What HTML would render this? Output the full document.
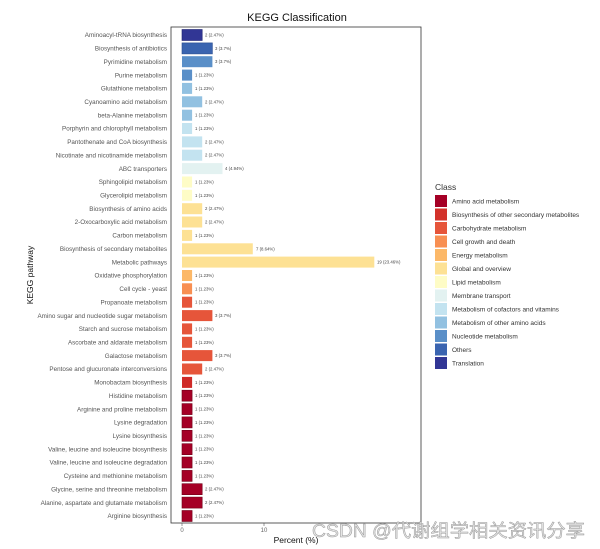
<!DOCTYPE html>
<html><head><meta charset="utf-8"><style>
html,body{margin:0;padding:0;background:#fff;}
svg{display:block;font-family:"Liberation Sans","Noto Sans CJK SC",sans-serif;}
.l{font-size:6.3px;fill:#555;text-anchor:end;}
.v{font-size:4.3px;fill:#444;}
.g text{font-size:6.5px;fill:#333;}
</style></head><body>
<svg width="600" height="549" viewBox="0 0 600 549" xmlns="http://www.w3.org/2000/svg">
<text x="297" y="21" font-size="11" text-anchor="middle" fill="#111">KEGG Classification</text>
<rect x="171" y="27" width="250" height="496" fill="none" stroke="#333" stroke-width="0.8"/>

<g stroke-width="0.6">
<rect x="182" y="29.5" width="20.2" height="11" fill="#313695" stroke="#1c2170"/>
<rect x="182" y="42.9" width="30.4" height="11" fill="#3a64b0" stroke="#2a4d90"/>
<rect x="182" y="56.2" width="30.4" height="11" fill="#5a8fc8"/>
<rect x="182" y="69.6" width="10.1" height="11" fill="#5a8fc8"/>
<rect x="182" y="82.9" width="10.1" height="11" fill="#92c1e1"/>
<rect x="182" y="96.3" width="20.2" height="11" fill="#92c1e1"/>
<rect x="182" y="109.7" width="10.1" height="11" fill="#92c1e1"/>
<rect x="182" y="123.0" width="10.1" height="11" fill="#c3e3f0"/>
<rect x="182" y="136.4" width="20.2" height="11" fill="#c3e3f0"/>
<rect x="182" y="149.7" width="20.2" height="11" fill="#c3e3f0"/>
<rect x="182" y="163.1" width="40.5" height="11" fill="#e3f2f1"/>
<rect x="182" y="176.5" width="10.1" height="11" fill="#fefcc6"/>
<rect x="182" y="189.8" width="10.1" height="11" fill="#fefcc6"/>
<rect x="182" y="203.2" width="20.2" height="11" fill="#fde194"/>
<rect x="182" y="216.5" width="20.2" height="11" fill="#fde194"/>
<rect x="182" y="229.9" width="10.1" height="11" fill="#fde194"/>
<rect x="182" y="243.3" width="70.8" height="11" fill="#fde194"/>
<rect x="182" y="256.6" width="192.3" height="11" fill="#fde194"/>
<rect x="182" y="270.0" width="10.1" height="11" fill="#fcb868"/>
<rect x="182" y="283.3" width="10.1" height="11" fill="#f88f52"/>
<rect x="182" y="296.7" width="10.1" height="11" fill="#e6553a"/>
<rect x="182" y="310.1" width="30.4" height="11" fill="#e6553a"/>
<rect x="182" y="323.4" width="10.1" height="11" fill="#e6553a"/>
<rect x="182" y="336.8" width="10.1" height="11" fill="#e6553a"/>
<rect x="182" y="350.1" width="30.4" height="11" fill="#e6553a"/>
<rect x="182" y="363.5" width="20.2" height="11" fill="#e6553a"/>
<rect x="182" y="376.9" width="10.1" height="11" fill="#cf2a27"/>
<rect x="182" y="390.2" width="10.1" height="11" fill="#a50026" stroke="#700018"/>
<rect x="182" y="403.6" width="10.1" height="11" fill="#a50026" stroke="#700018"/>
<rect x="182" y="416.9" width="10.1" height="11" fill="#a50026" stroke="#700018"/>
<rect x="182" y="430.3" width="10.1" height="11" fill="#a50026" stroke="#700018"/>
<rect x="182" y="443.7" width="10.1" height="11" fill="#a50026" stroke="#700018"/>
<rect x="182" y="457.0" width="10.1" height="11" fill="#a50026" stroke="#700018"/>
<rect x="182" y="470.4" width="10.1" height="11" fill="#a50026" stroke="#700018"/>
<rect x="182" y="483.7" width="20.2" height="11" fill="#a50026" stroke="#700018"/>
<rect x="182" y="497.1" width="20.2" height="11" fill="#a50026" stroke="#700018"/>
<rect x="182" y="510.5" width="10.1" height="11" fill="#a50026" stroke="#700018"/>
</g>

<g class="v">
<text x="205" y="36.5">2 (2.47%)</text>
<text x="215" y="49.9">3 (3.7%)</text>
<text x="215" y="63.2">3 (3.7%)</text>
<text x="195" y="76.6">1 (1.23%)</text>
<text x="195" y="89.9">1 (1.23%)</text>
<text x="205" y="103.3">2 (2.47%)</text>
<text x="195" y="116.7">1 (1.23%)</text>
<text x="195" y="130.0">1 (1.23%)</text>
<text x="205" y="143.4">2 (2.47%)</text>
<text x="205" y="156.7">2 (2.47%)</text>
<text x="225" y="170.1">4 (4.94%)</text>
<text x="195" y="183.5">1 (1.23%)</text>
<text x="195" y="196.8">1 (1.23%)</text>
<text x="205" y="210.2">2 (2.47%)</text>
<text x="205" y="223.5">2 (2.47%)</text>
<text x="195" y="236.9">1 (1.23%)</text>
<text x="256" y="250.3">7 (8.64%)</text>
<text x="377" y="263.6">19 (23.46%)</text>
<text x="195" y="277.0">1 (1.23%)</text>
<text x="195" y="290.3">1 (1.23%)</text>
<text x="195" y="303.7">1 (1.23%)</text>
<text x="215" y="317.1">3 (3.7%)</text>
<text x="195" y="330.4">1 (1.23%)</text>
<text x="195" y="343.8">1 (1.23%)</text>
<text x="215" y="357.1">3 (3.7%)</text>
<text x="205" y="370.5">2 (2.47%)</text>
<text x="195" y="383.9">1 (1.23%)</text>
<text x="195" y="397.2">1 (1.23%)</text>
<text x="195" y="410.6">1 (1.23%)</text>
<text x="195" y="423.9">1 (1.23%)</text>
<text x="195" y="437.3">1 (1.23%)</text>
<text x="195" y="450.7">1 (1.23%)</text>
<text x="195" y="464.0">1 (1.23%)</text>
<text x="195" y="477.4">1 (1.23%)</text>
<text x="205" y="490.7">2 (2.47%)</text>
<text x="205" y="504.1">2 (2.47%)</text>
<text x="195" y="517.5">1 (1.23%)</text>
</g>

<g class="l">
<text x="167" y="37.2">Aminoacyl-tRNA biosynthesis</text>
<text x="167" y="50.6">Biosynthesis of antibiotics</text>
<text x="167" y="63.9">Pyrimidine metabolism</text>
<text x="167" y="77.3">Purine metabolism</text>
<text x="167" y="90.6">Glutathione metabolism</text>
<text x="167" y="104.0">Cyanoamino acid metabolism</text>
<text x="167" y="117.4">beta-Alanine metabolism</text>
<text x="167" y="130.7">Porphyrin and chlorophyll metabolism</text>
<text x="167" y="144.1">Pantothenate and CoA biosynthesis</text>
<text x="167" y="157.4">Nicotinate and nicotinamide metabolism</text>
<text x="167" y="170.8">ABC transporters</text>
<text x="167" y="184.2">Sphingolipid metabolism</text>
<text x="167" y="197.5">Glycerolipid metabolism</text>
<text x="167" y="210.9">Biosynthesis of amino acids</text>
<text x="167" y="224.2">2-Oxocarboxylic acid metabolism</text>
<text x="167" y="237.6">Carbon metabolism</text>
<text x="167" y="251.0">Biosynthesis of secondary metabolites</text>
<text x="167" y="264.3">Metabolic pathways</text>
<text x="167" y="277.7">Oxidative phosphorylation</text>
<text x="167" y="291.0">Cell cycle - yeast</text>
<text x="167" y="304.4">Propanoate metabolism</text>
<text x="167" y="317.8">Amino sugar and nucleotide sugar metabolism</text>
<text x="167" y="331.1">Starch and sucrose metabolism</text>
<text x="167" y="344.5">Ascorbate and aldarate metabolism</text>
<text x="167" y="357.8">Galactose metabolism</text>
<text x="167" y="371.2">Pentose and glucuronate interconversions</text>
<text x="167" y="384.6">Monobactam biosynthesis</text>
<text x="167" y="397.9">Histidine metabolism</text>
<text x="167" y="411.3">Arginine and proline metabolism</text>
<text x="167" y="424.6">Lysine degradation</text>
<text x="167" y="438.0">Lysine biosynthesis</text>
<text x="167" y="451.4">Valine, leucine and isoleucine biosynthesis</text>
<text x="167" y="464.7">Valine, leucine and isoleucine degradation</text>
<text x="167" y="478.1">Cysteine and methionine metabolism</text>
<text x="167" y="491.4">Glycine, serine and threonine metabolism</text>
<text x="167" y="504.8">Alanine, aspartate and glutamate metabolism</text>
<text x="167" y="518.2">Arginine biosynthesis</text>
</g>

<line x1="182" y1="523" x2="182" y2="526" stroke="#555" stroke-width="0.6"/>
<line x1="264" y1="523" x2="264" y2="526" stroke="#555" stroke-width="0.6"/>
<line x1="346" y1="523" x2="346" y2="526" stroke="#555" stroke-width="0.6"/>
<text x="182" y="532" font-size="6" fill="#666" text-anchor="middle">0</text>
<text x="264" y="532" font-size="6" fill="#666" text-anchor="middle">10</text>
<text x="296" y="543" font-size="8.5" fill="#111" text-anchor="middle">Percent (%)</text>
<text transform="translate(33,275) rotate(-90)" font-size="8.5" fill="#111" text-anchor="middle">KEGG pathway</text>

<g class="g">
<text x="435" y="190" style="font-size:8.5px" fill="#111">Class</text>
<rect x="435" y="195" width="12" height="12" fill="#a50026"/><text x="452" y="203.5">Amino acid metabolism</text>
<rect x="435" y="208.5" width="12" height="12" fill="#d3322b"/><text x="452" y="217">Biosynthesis of other secondary metabolites</text>
<rect x="435" y="222" width="12" height="12" fill="#e6553a"/><text x="452" y="230.5">Carbohydrate metabolism</text>
<rect x="435" y="235.5" width="12" height="12" fill="#f88f52"/><text x="452" y="244">Cell growth and death</text>
<rect x="435" y="249" width="12" height="12" fill="#fcb868"/><text x="452" y="257.5">Energy metabolism</text>
<rect x="435" y="262.5" width="12" height="12" fill="#fde194"/><text x="452" y="271">Global and overview</text>
<rect x="435" y="276" width="12" height="12" fill="#fefcc6"/><text x="452" y="284.5">Lipid metabolism</text>
<rect x="435" y="289.5" width="12" height="12" fill="#e3f2f1"/><text x="452" y="298">Membrane transport</text>
<rect x="435" y="303" width="12" height="12" fill="#c3e3f0"/><text x="452" y="311.5">Metabolism of cofactors and vitamins</text>
<rect x="435" y="316.5" width="12" height="12" fill="#92c1e1"/><text x="452" y="325">Metabolism of other amino acids</text>
<rect x="435" y="330" width="12" height="12" fill="#5a8fc8"/><text x="452" y="338.5">Nucleotide metabolism</text>
<rect x="435" y="343.5" width="12" height="12" fill="#3a64b0"/><text x="452" y="352">Others</text>
<rect x="435" y="357" width="12" height="12" fill="#313695"/><text x="452" y="365.5">Translation</text>
</g>

<text x="312" y="537" font-size="18" fill="#e6e6e6" stroke="#9a9a9a" stroke-width="0.5" textLength="273" lengthAdjust="spacingAndGlyphs" font-family="Liberation Sans, Noto Sans CJK SC, sans-serif">CSDN @代谢组学相关资讯分享</text>
</svg>
</body></html>
